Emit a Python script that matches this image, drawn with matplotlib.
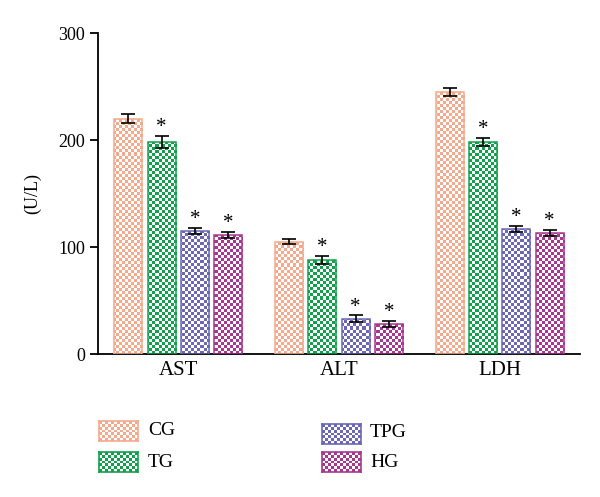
#Python code for plotting
import numpy as np
import matplotlib.pyplot as plt

plt.rcParams['font.family'] = ['Liberation Serif', 'DejaVu Serif']

#Data
categories = ['AST', 'ALT', 'LDH']
groups = ['CG', 'TG', 'TPG', 'HG']
values = {
    'CG':  [220, 105, 245],
    'TG':  [198, 88, 198],
    'TPG': [115, 33, 117],
    'HG':  [111, 28, 113],
}
errors = {
    'CG':  [4, 2.5, 4],
    'TG':  [5.5, 4, 4],
    'TPG': [3, 3, 3],
    'HG':  [3, 3, 3],
}
signif = {'CG': False, 'TG': True, 'TPG': True, 'HG': True}
colors = {'CG': '#f4a98c', 'TG': '#12a04c', 'TPG': '#6a68b6', 'HG': '#a83790'}

def checker(color, nx, ny):
    rgb = np.array(plt.matplotlib.colors.to_rgb(color))
    img = np.ones((ny, nx, 3))
    mask = (np.add.outer(np.arange(ny), np.arange(nx)) % 2) == 0
    img[mask] = rgb
    return img

fig = plt.figure(figsize=(6, 4.97), dpi=100)
ax = fig.add_axes([0.1633, 0.2877, 0.8034, 0.6459])

group_x = np.arange(len(categories)) * 4.82
offsets = np.array([-1.5, -0.5, 0.5, 1.5])
width = 0.84
xlim = (group_x[0] - 2.41, group_x[-1] + 2.41)
ylim = (0, 300)
ax.set_xlim(xlim)
ax.set_ylim(ylim)

nx, ny = 161, 107
for i, g in enumerate(groups):
    x = group_x + offsets[i]
    bars = ax.bar(x, values[g], width, facecolor='none', edgecolor=colors[g],
                  linewidth=1.1, zorder=3)
    img = checker(colors[g], nx, ny)
    for b in bars:
        im = ax.imshow(img, extent=(xlim[0], xlim[1], ylim[0], ylim[1]),
                       aspect='auto', interpolation='nearest', origin='lower', zorder=2)
        im.set_clip_path(b)
    ax.errorbar(x, values[g], yerr=errors[g], fmt='none', ecolor='black',
                elinewidth=1.2, capsize=4.7, capthick=1.2, zorder=4)
    if signif[g]:
        for xi, v, e in zip(x, values[g], errors[g]):
            ax.text(xi, v + e - 1, '*', ha='center', va='bottom', fontsize=15)

ax.set_xticks(group_x)
ax.set_xticklabels(categories, fontsize=15)
ax.tick_params(axis='x', length=0, pad=5)
ax.set_yticks([0, 100, 200, 300])
ax.tick_params(axis='y', labelsize=13, length=6, width=1.3, direction='out')
ax.set_ylabel('(U/L)', fontsize=13, labelpad=12)
for s in ['top', 'right']:
    ax.spines[s].set_visible(False)
for s in ['left', 'bottom']:
    ax.spines[s].set_linewidth(1.3)

#Legend swatches
legend_pos = {
    'CG':  (0.165, 0.1127, 0.2467, 0.1328),
    'TG':  (0.165, 0.0503, 0.2467, 0.0704),
    'TPG': (0.5367, 0.1066, 0.6167, 0.1288),
    'HG':  (0.5367, 0.0503, 0.6167, 0.0704),
}
for g in groups:
    lx, ly, tx, ty = legend_pos[g]
    sw = fig.add_axes([lx, ly, 0.065, 0.0402])
    sw.imshow(checker(colors[g], 13, 7), aspect='auto', interpolation='nearest')
    sw.set_xticks([])
    sw.set_yticks([])
    for s in sw.spines.values():
        s.set_color(colors[g])
        s.set_linewidth(1.2)
    fig.text(tx, ty, g, fontsize=14, va='center', ha='left')

#Save the plot
plt.savefig('out.png', dpi=100)
